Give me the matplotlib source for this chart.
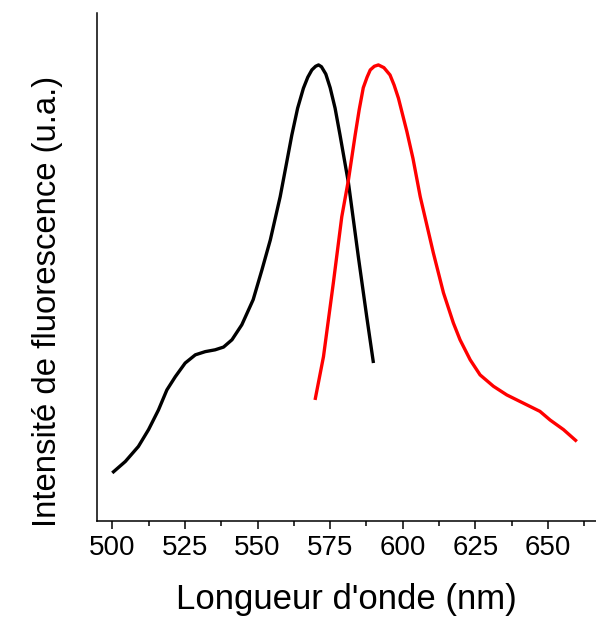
import matplotlib
matplotlib.use("Agg")
import matplotlib.pyplot as plt
from matplotlib.ticker import MultipleLocator

plt.rcParams['font.family'] = ['Liberation Sans', 'DejaVu Sans']

# excitation spectrum (black)
wl_black = [500, 504.5, 509, 512.5, 515.9, 518.8, 521.7, 525.1, 528.6, 532,
            535.4, 538.3, 541.2, 544.6, 548.5, 551.5, 554.4, 557.8, 560, 561.8,
            563.8, 565.8, 567.3, 568.7, 570, 571, 572, 573.5, 575, 576.7,
            578.4, 581.3, 584.7, 587.6, 589.9]
int_black = [10.5, 13.0, 16.3, 20.0, 24.3, 28.7, 31.6, 34.6, 36.4, 37.1,
             37.5, 38.1, 39.7, 43.0, 48.5, 55.0, 61.6, 71.1, 78.5, 84.6,
             90.5, 94.9, 97.3, 98.9, 99.7, 100.0, 99.6, 98.0, 95.0, 90.5,
             84.6, 74.1, 57.9, 44.7, 34.6]

# emission spectrum (red)
wl_red = [569.8, 572.7, 576.1, 579, 581.3, 583.6, 585, 586.4, 587.7, 588.8,
          590.2, 591.6, 593.5, 595.6, 597, 598.5, 601.4, 603.5, 606, 610.5,
          614, 617.4, 619.7, 623.2, 626.6, 631.2, 635.8, 641.5, 647.2, 650.7,
          655.3, 659.9]
int_red = [26.5, 36.0, 52.2, 66.7, 74.8, 84.6, 90.2, 95.0, 97.3, 98.9,
           99.7, 100.0, 99.4, 97.8, 95.6, 92.7, 85.4, 79.5, 71.1, 58.8,
           50.0, 43.4, 39.7, 35.3, 32.0, 29.5, 27.6, 25.8, 24.0, 22.1,
           20.0, 17.4]

fig = plt.figure(figsize=(5.96, 6.17), dpi=100)
ax = fig.add_axes([0.163, 0.156, 0.837, 0.823])

ax.plot(wl_black, int_black, color='black', lw=2.4, solid_capstyle='butt')
ax.plot(wl_red, int_red, color='red', lw=2.4, solid_capstyle='butt')

ax.set_xlim(494.8, 666.5)
ax.set_ylim(0, 111.4)

ax.xaxis.set_major_locator(MultipleLocator(25))
ax.xaxis.set_minor_locator(MultipleLocator(12.5))
ax.tick_params(axis='x', which='major', length=6, width=1.1, labelsize=20, pad=4)
ax.tick_params(axis='x', which='minor', length=3.5, width=1.1)
ax.set_yticks([])

for side in ['top', 'right']:
    ax.spines[side].set_visible(False)
for side in ['left', 'bottom']:
    ax.spines[side].set_linewidth(1.1)

ax.set_xlabel("Longueur d'onde (nm)", fontsize=25, labelpad=16)
ax.set_ylabel("Intensité de fluorescence (u.a.)", fontsize=23.7)
ax.yaxis.set_label_coords(-0.068, 0.431)

fig.savefig("out.png", dpi=100)
